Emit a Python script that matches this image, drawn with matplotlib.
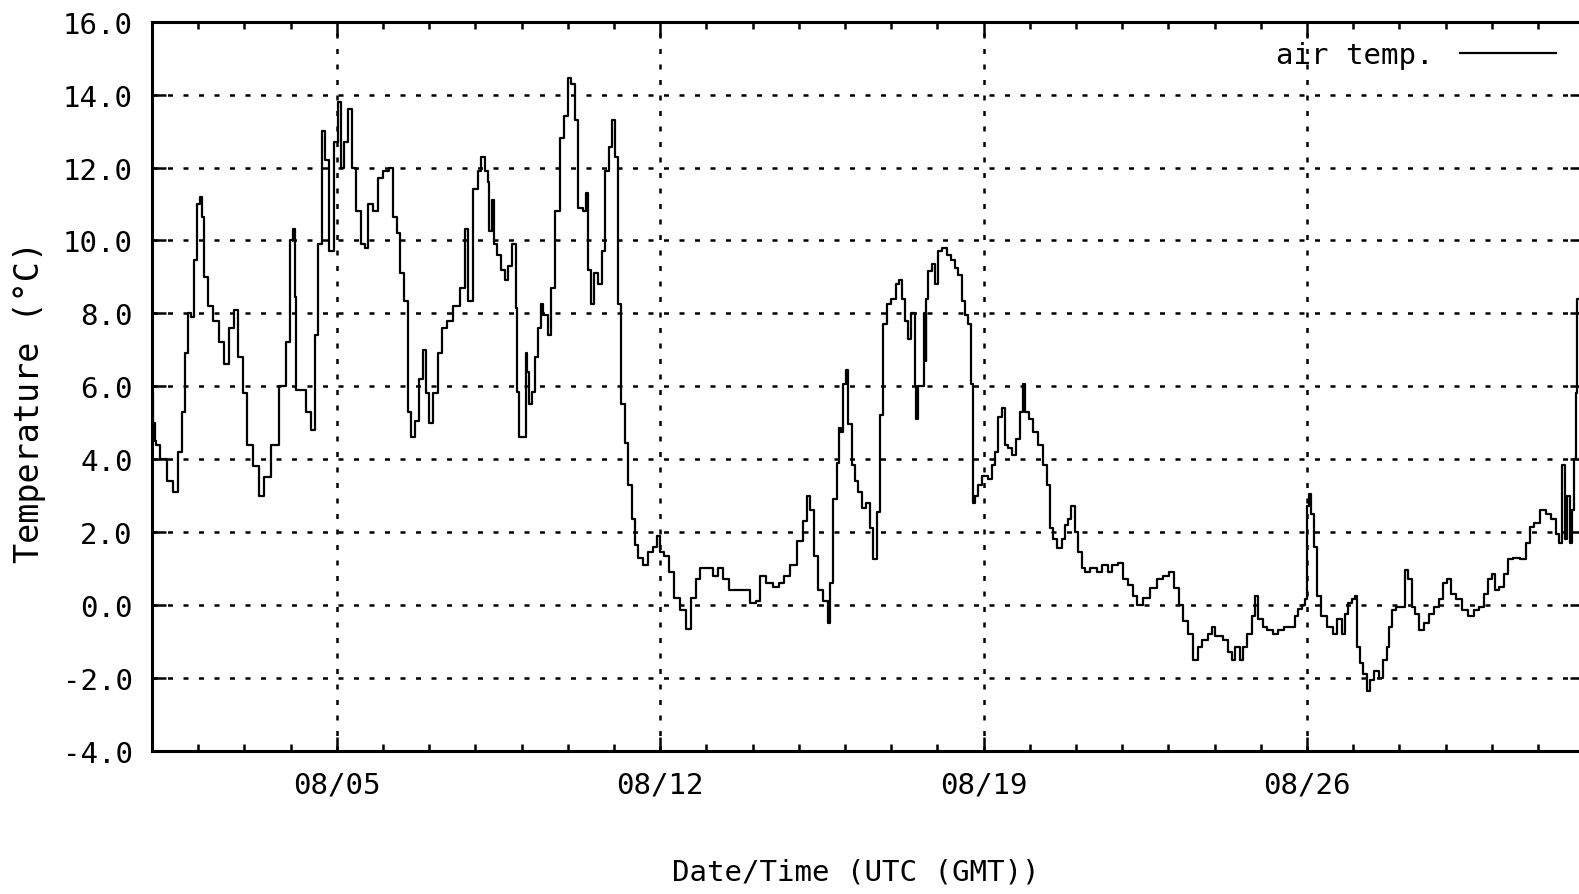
import numpy as np
import pandas as pd
import matplotlib
matplotlib.use("Agg")
import matplotlib.pyplot as plt
import matplotlib.dates as mdates
from matplotlib.ticker import FixedLocator, FuncFormatter

plt.rcParams['font.family'] = ['DejaVu Sans Mono']
plt.rcParams['axes.unicode_minus'] = False

# air temperature, time in days after 08/01 00:00 UTC
days = [0.0, 0.05, 0.07, 0.10, 0.25, 0.39, 0.52, 0.61, 0.68, 0.75, 0.82, 0.88, 0.93, 1.0,
        1.075, 1.11, 1.147, 1.256, 1.4, 1.508, 1.616, 1.725, 1.833, 1.905, 2.013, 2.121,
        2.266, 2.374, 2.482, 2.663, 2.843, 2.951, 3.023, 3.074, 3.095, 3.131, 3.276, 3.384,
        3.492, 3.565, 3.637, 3.709, 3.781, 3.889, 3.997, 4.055, 4.106, 4.214, 4.286, 4.358,
        4.466, 4.575, 4.647, 4.719, 4.863, 4.935, 5.08, 5.188, 5.26, 5.332, 5.404, 5.513,
        5.549, 5.657, 5.729, 5.837, 5.909, 5.946, 6.054, 6.126, 6.234, 6.306, 6.45, 6.595,
        6.739, 6.811, 6.883, 6.992, 7.1, 7.15,
        7.244, 7.28, 7.316, 7.389, 7.425, 7.497, 7.605, 7.663, 7.749, 7.822, 7.858, 7.879,
        7.908, 7.966, 8.074, 8.096, 8.146, 8.182, 8.254, 8.312, 8.384, 8.435, 8.507, 8.615,
        8.673, 8.774, 8.868, 8.961, 9.034, 9.12, 9.192, 9.265, 9.373, 9.409, 9.481, 9.539,
        9.611, 9.697, 9.77, 9.842, 9.928, 9.986, 10.058, 10.116, 10.202, 10.275, 10.347,
        10.419, 10.491, 10.563, 10.708, 10.78, 10.888, 10.96, 11.032, 11.14, 11.249, 11.357,
        11.501, 11.609, 11.718, 11.826, 11.898, 12.078, 12.187, 12.295, 12.439, 12.547,
        12.728, 12.872, 13.016, 13.125, 13.197, 13.377, 13.521, 13.63, 13.738, 13.882,
        14.026, 14.135, 14.207, 14.279, 14.387, 14.459, 14.604, 14.64, 14.712, 14.784,
        14.856, 14.892,
        14.928, 15.0, 15.036, 15.108, 15.18, 15.253, 15.325, 15.397, 15.505, 15.577, 15.649,
        15.722, 15.794, 15.866, 15.938, 16.046, 16.154, 16.19, 16.263, 16.335, 16.407,
        16.443, 16.5, 16.515, 16.551, 16.609, 16.66, 16.74, 16.753, 16.768, 16.84, 16.912,
        16.984, 17.056, 17.164, 17.237, 17.345, 17.417, 17.489, 17.561, 17.634, 17.706,
        17.742, 17.778, 17.85, 17.922, 18.03, 18.139, 18.211, 18.283, 18.355, 18.427,
        18.499, 18.571, 18.644, 18.752, 18.824, 18.874, 18.932, 19.04, 19.113, 19.221,
        19.329, 19.401, 19.473, 19.545, 19.654, 19.726, 19.798, 19.87, 19.928, 20.014,
        20.087, 20.159, 20.231, 20.375, 20.519, 20.628, 20.736, 20.844, 20.988, 21.061,
        21.169, 21.277, 21.385, 21.53, 21.674, 21.818, 21.962, 22.071, 22.179, 22.287,
        22.359, 22.468,
        22.576, 22.684, 22.792, 22.901, 22.973, 23.045, 23.153, 23.225, 23.334, 23.406,
        23.492, 23.586, 23.658, 23.766, 23.839, 23.911, 23.983, 24.091, 24.199, 24.308,
        24.452, 24.56, 24.704, 24.777, 24.849, 24.921, 24.979, 25.029, 25.065, 25.123,
        25.173, 25.246, 25.354, 25.498, 25.606, 25.714, 25.787, 25.859, 25.931, 26.018,
        26.075, 26.111, 26.184, 26.256, 26.328, 26.4, 26.508, 26.616, 26.688, 26.761,
        26.797, 26.869, 26.977, 27.085, 27.143, 27.23, 27.302, 27.374, 27.482, 27.591,
        27.699, 27.807, 27.915, 27.987, 28.059, 28.168, 28.276, 28.42, 28.564, 28.673,
        28.781, 28.889, 28.961, 29.033, 29.106, 29.214, 29.322, 29.394, 29.539, 29.683,
        29.791, 29.863, 29.971, 30.116, 30.224, 30.332, 30.44, 30.476, 30.548, 30.606,
        30.657, 30.707, 30.751, 30.801, 30.837, 30.859]

temp = [5.8, 5.0, 4.5, 4.4, 4.0, 3.4, 3.1, 4.2, 5.3, 6.9, 8.0, 7.9, 9.45, 11.0,
        11.2, 10.65, 9.0, 8.2, 7.8, 7.2, 6.6, 7.6, 8.1, 6.8, 5.8, 4.4,
        3.8, 3.0, 3.5, 4.4, 6.0, 7.2, 10.0, 10.3, 8.45, 5.9, 5.9, 5.3,
        4.8, 7.4, 9.9, 13.0, 12.2, 9.7, 12.7, 13.8, 12.0, 12.7, 13.6, 12.0,
        10.8, 9.9, 9.8, 11.0, 10.8, 11.7, 11.9, 12.0, 10.65, 10.2, 9.1, 8.35,
        5.3, 4.6, 5.05, 6.2, 7.0, 5.8, 5.0, 5.8, 6.9, 7.6, 7.8, 8.2,
        8.7, 10.3, 8.35, 11.4, 11.9, 12.3,
        11.9, 11.6, 10.25, 11.1, 9.9, 9.6, 9.2, 8.9, 9.3, 9.9, 9.9, 8.15,
        5.85, 4.6, 4.6, 6.9, 6.4, 5.5, 5.85, 6.8, 7.6, 8.25, 7.95, 7.4,
        8.7, 10.8, 12.8, 13.4, 14.45, 14.3, 13.3, 10.9, 10.8, 11.3, 9.2, 8.25,
        9.1, 8.8, 9.7, 11.9, 12.55, 13.3, 12.3, 8.25, 5.5, 4.45, 3.3,
        2.35, 1.65, 1.3, 1.1, 1.45, 1.6, 1.9, 1.45, 1.35, 0.9, 0.2,
        -0.15, -0.65, 0.2, 0.7, 1.0, 1.0, 0.8, 1.0, 0.7, 0.4,
        0.4, 0.4, 0.05, 0.1, 0.8, 0.6, 0.5, 0.6, 0.8, 1.1,
        1.75, 2.3, 3.0, 2.6, 1.35, 0.4, 0.1, -0.5, 0.6, 2.9,
        3.9, 4.85,
        4.75, 6.05, 6.45, 4.95, 3.85, 3.4, 3.1, 2.65, 2.8, 2.1, 1.25,
        2.55, 5.2, 7.7, 8.25, 8.4, 8.8, 8.9, 8.4, 7.8, 7.3,
        8.0, 8.0, 6.0, 5.1, 6.0, 6.0, 8.0, 6.7, 8.4, 9.15, 9.35,
        8.8, 9.7, 9.8, 9.6, 9.45, 9.25, 9.05, 8.35, 7.95, 7.7,
        6.05, 2.8, 3.0, 3.3, 3.55, 3.45, 3.85, 4.2, 5.15, 5.4,
        4.4, 4.3, 4.1, 4.55, 5.3, 6.05, 5.3, 5.1, 4.75, 4.4,
        3.85, 3.3, 2.1, 1.8, 1.55, 1.8, 2.2, 2.35, 2.7, 2.0,
        1.45, 1.0, 0.9, 1.0, 0.9, 1.1, 0.9, 1.1, 1.15, 0.7,
        0.55, 0.25, 0.0, 0.2, 0.45, 0.7, 0.8, 0.9, 0.45, 0.0,
        -0.45, -0.8,
        -1.5, -1.15, -0.95, -0.8, -0.6, -0.85, -0.85, -0.95, -1.3, -1.5,
        -1.15, -1.5, -1.15, -0.8, -0.3, 0.25, -0.4, -0.6, -0.7, -0.8,
        -0.7, -0.6, -0.6, -0.3, -0.1, 0.0, 0.15, 2.7, 3.05, 2.5,
        1.6, 0.25, -0.3, -0.6, -0.8, -0.4, -0.8, -0.25, 0.05, 0.15,
        0.25, -1.15, -1.6, -1.9, -2.35, -2.05, -1.8, -2.0, -1.5, -1.15,
        -0.6, -0.15, -0.05, -0.05, 0.95, 0.7, -0.05, -0.25, -0.7, -0.5,
        -0.25, -0.05, 0.15, 0.6, 0.7, 0.3, 0.15, -0.15, -0.3, -0.15,
        -0.05, 0.3, 0.7, 0.85, 0.4, 0.5, 0.85, 1.25, 1.3, 1.25,
        1.7, 2.15, 2.25, 2.6, 2.5, 2.35, 1.95, 1.7, 3.85, 1.8,
        3.0, 1.7, 2.6, 4.0, 5.8, 8.4]

xtick_labels = ['08/05', '08/12', '08/19', '08/26']
yticks = [-4, -2, 0, 2, 4, 6, 8, 10, 12, 14, 16]

start = pd.Timestamp('2008-08-01')
t = start + pd.to_timedelta(np.array(days), unit='D')
xticks = [pd.Timestamp('2008/' + s) for s in xtick_labels]

W, H = 1579, 895
fig = plt.figure(figsize=(W / 100, H / 100), dpi=100)
ax = fig.add_axes([152 / W, 143.3 / H, 1432.2 / W, 729 / H])

# stepped trace, like the logger's plotting output
ax.plot(t, temp, color='black', lw=1.6, drawstyle='steps-mid', label='air temp.')

ax.set_xlim(start, start + pd.Timedelta(days=31))
ax.set_ylim(-4, 16)

ax.xaxis.set_major_locator(FixedLocator(mdates.date2num(xticks)))
ax.xaxis.set_major_formatter(FuncFormatter(lambda v, p: mdates.num2date(v).strftime('%m/%d')))
ax.xaxis.set_minor_locator(mdates.DayLocator())
ax.set_yticks(yticks)
ax.yaxis.set_major_formatter(FuncFormatter(lambda v, p: '%.1f' % v))

ax.grid(True, which='major', color='black', linestyle=(0, (2.0, 4.2)), lw=1.8)
ax.tick_params(axis='both', which='major', direction='in', length=10, width=1.8,
               top=True, right=True, labelsize=21, colors='black')
ax.tick_params(axis='x', which='major', pad=14)
ax.tick_params(axis='y', which='major', pad=14)
ax.tick_params(axis='x', which='minor', direction='in', length=5, width=1.8, top=True)
for s in ax.spines.values():
    s.set_linewidth(2.2)

fig.text(30 / W, 1 - 402 / H, 'Temperature (°C)', rotation=90, ha='center', va='center',
         fontsize=24)
fig.text(856 / W, 1 - 873 / H, 'Date/Time (UTC (GMT))', ha='center', va='center', fontsize=21)

ax.legend(loc='upper right', bbox_to_anchor=(1556 / W, 1 - 42 / H), bbox_transform=fig.transFigure,
          frameon=False, markerfirst=False, handlelength=3.3, handletextpad=0.9,
          borderpad=0, borderaxespad=0, fontsize=21)

fig.savefig('out.png', dpi=100)
